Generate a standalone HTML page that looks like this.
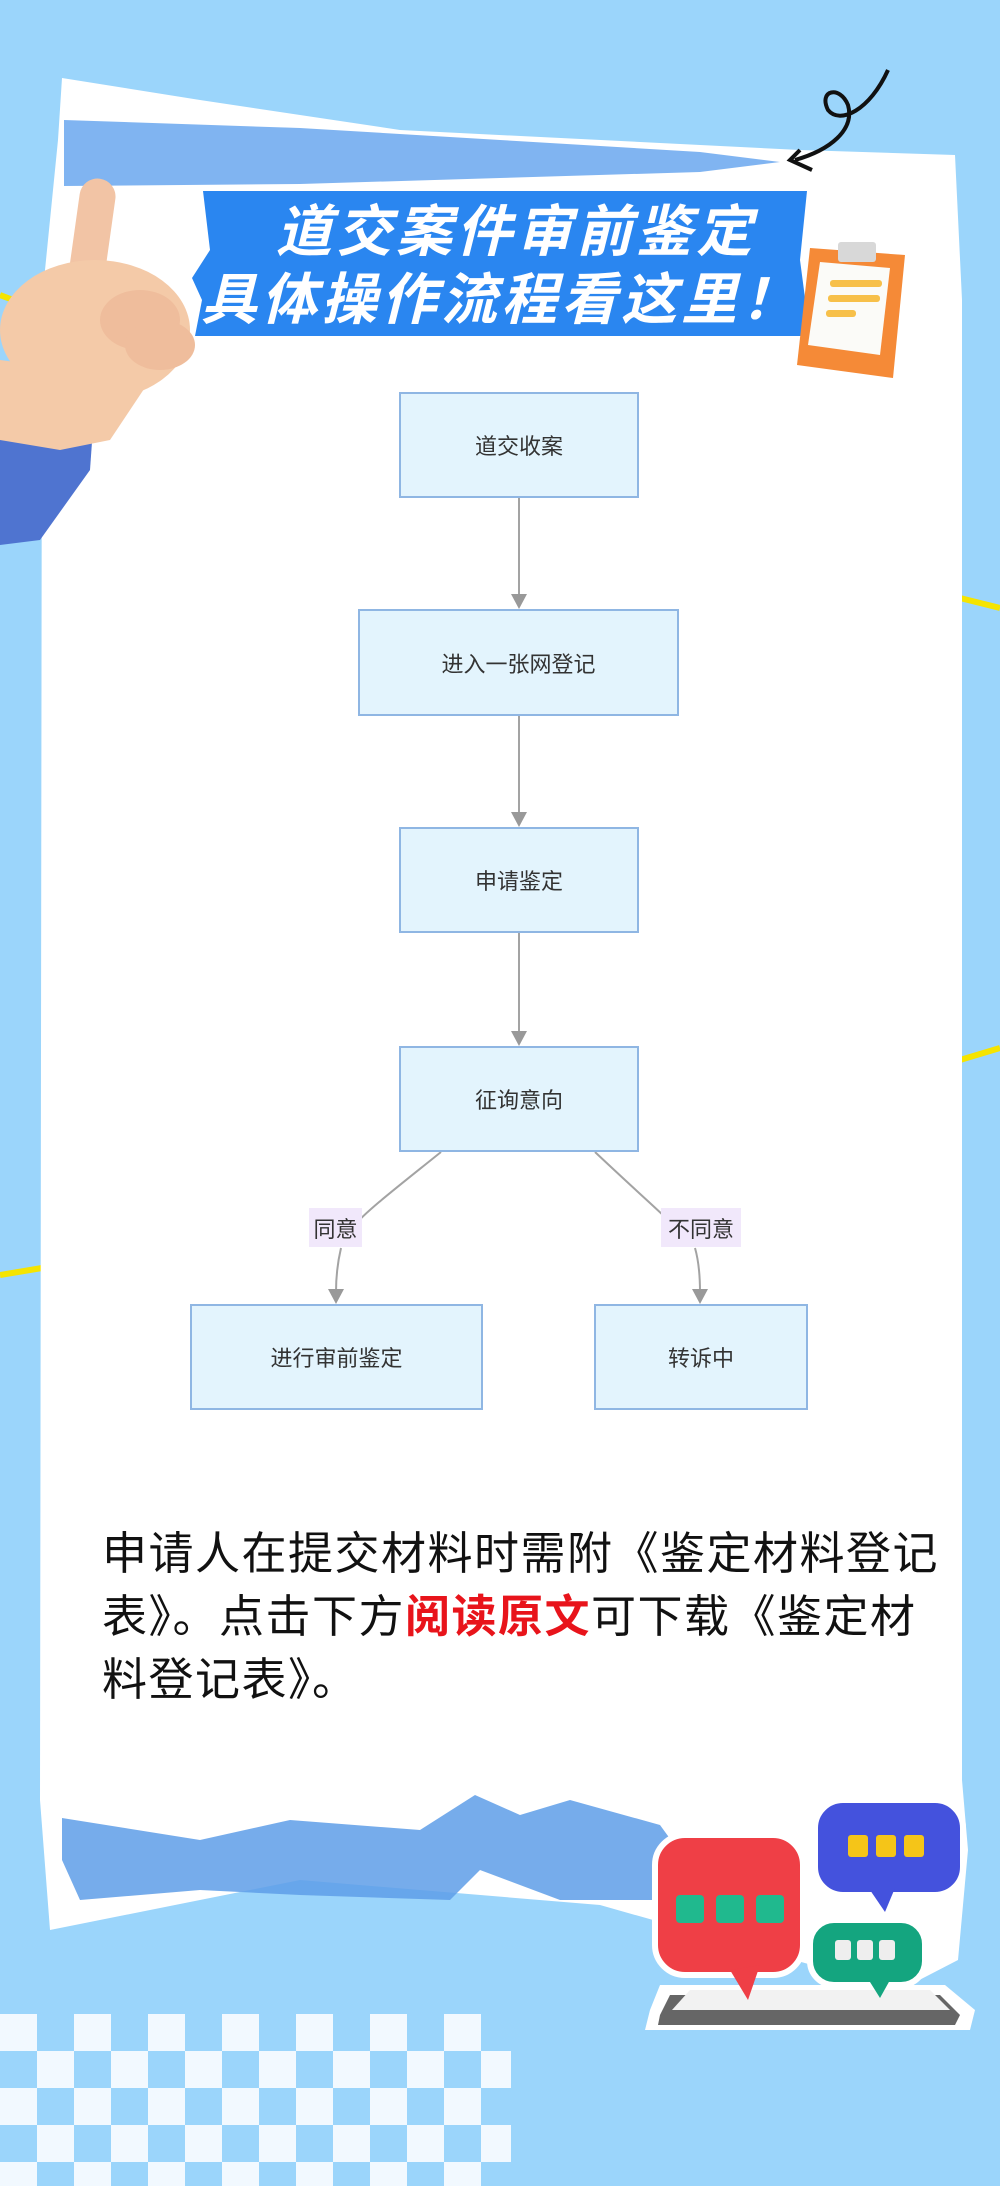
<!DOCTYPE html>
<html><head><meta charset="utf-8"><style>
html,body{margin:0;padding:0;}
body{width:1000px;height:2186px;position:relative;overflow:hidden;background:#9bd5fb;font-family:"Liberation Sans","Noto Sans CJK SC",sans-serif;}
.abs{position:absolute;}
.node{position:absolute;background:#e3f4fd;border:2px solid #8fb6e3;box-sizing:border-box;display:flex;align-items:center;justify-content:center;font-size:22px;color:#333;}
.lbl{position:absolute;background:#f1e8fb;color:#333;font-size:22px;display:flex;align-items:center;justify-content:center;}
.para{position:absolute;left:102px;top:1522px;width:880px;font-size:45px;line-height:63px;color:#111;letter-spacing:1.5px;white-space:nowrap;}
</style></head><body>
<svg class="abs" style="left:0;top:0" width="1000" height="2186">
  <line x1="0" y1="295" x2="40" y2="310" stroke="#f5e400" stroke-width="6"/>
  <line x1="960" y1="598" x2="1000" y2="608" stroke="#f5e400" stroke-width="6"/>
  <line x1="960" y1="1060" x2="1000" y2="1048" stroke="#f5e400" stroke-width="6"/>
  <line x1="0" y1="1275" x2="42" y2="1268" stroke="#f5e400" stroke-width="6"/>
  <path d="M62 78 L200 100 L400 130 L800 150 L955 155 L962 300 L962 1780 L968 1850 L958 1960 L900 1990 L600 1905 L300 1880 L50 1930 L40 1800 L42 300 L58 140 Z" fill="#ffffff"/>
  <path d="M64 120 L300 128 L500 140 L700 152 L780 162 L700 172 L500 178 L300 184 L64 186 Z" fill="#6aa7ee" opacity="0.85"/>
  <path d="M62 1818 L200 1840 L290 1820 L420 1830 L475 1795 L520 1815 L570 1800 L660 1825 L700 1880 L660 1900 L560 1900 L480 1870 L450 1900 L300 1895 L200 1890 L80 1900 L62 1860 Z" fill="#5e9de8" opacity="0.85"/>
  <g fill="#f2f9ff">
    <rect x="0" y="2014" width="37" height="37"/><rect x="74" y="2014" width="37" height="37"/><rect x="148" y="2014" width="37" height="37"/><rect x="222" y="2014" width="37" height="37"/><rect x="296" y="2014" width="37" height="37"/><rect x="370" y="2014" width="37" height="37"/><rect x="444" y="2014" width="37" height="37"/>
    <rect x="37" y="2051" width="37" height="37"/><rect x="111" y="2051" width="37" height="37"/><rect x="185" y="2051" width="37" height="37"/><rect x="259" y="2051" width="37" height="37"/><rect x="333" y="2051" width="37" height="37"/><rect x="407" y="2051" width="37" height="37"/><rect x="481" y="2051" width="30" height="37"/>
    <rect x="0" y="2088" width="37" height="37"/><rect x="74" y="2088" width="37" height="37"/><rect x="148" y="2088" width="37" height="37"/><rect x="222" y="2088" width="37" height="37"/><rect x="296" y="2088" width="37" height="37"/><rect x="370" y="2088" width="37" height="37"/><rect x="444" y="2088" width="37" height="37"/>
    <rect x="37" y="2125" width="37" height="37"/><rect x="111" y="2125" width="37" height="37"/><rect x="185" y="2125" width="37" height="37"/><rect x="259" y="2125" width="37" height="37"/><rect x="333" y="2125" width="37" height="37"/><rect x="407" y="2125" width="37" height="37"/><rect x="481" y="2125" width="30" height="37"/>
    <rect x="0" y="2162" width="37" height="24"/><rect x="74" y="2162" width="37" height="24"/><rect x="148" y="2162" width="37" height="24"/><rect x="222" y="2162" width="37" height="24"/><rect x="296" y="2162" width="37" height="24"/><rect x="370" y="2162" width="37" height="24"/><rect x="444" y="2162" width="37" height="24"/>
  </g>
  <path d="M888 70 C870 110 840 125 828 110 C818 90 840 85 848 105 C855 130 830 150 795 160 M800 150 L790 160 L812 170" fill="none" stroke="#111" stroke-width="4"/>
  <path d="M203 191 L807 191 L800 260 L810 336 L195 336 L202 300 L192 278 L210 250 Z" fill="#2a86f0"/>
  <path d="M0 430 L95 400 L90 470 L40 540 L0 545 Z" fill="#4f74d0"/>
  <rect x="72" y="178" width="36" height="150" rx="18" fill="#f2c4a5" transform="rotate(8 90 250)"/>
  <ellipse cx="95" cy="330" rx="95" ry="70" fill="#f4caa8"/>
  <ellipse cx="140" cy="320" rx="40" ry="30" fill="#efbd9c"/>
  <ellipse cx="160" cy="345" rx="35" ry="25" fill="#efbd9c"/>
  <path d="M0 360 L150 380 L110 440 L60 450 L0 440 Z" fill="#f4caa8"/>
  <path d="M810 248 L905 255 L893 378 L797 365 Z" fill="#f58a37"/>
  <path d="M820 262 L890 268 L880 355 L808 345 Z" fill="#fbfbf8"/>
  <rect x="838" y="242" width="38" height="20" rx="3" fill="#d8d8d8"/>
  <rect x="830" y="280" width="52" height="7" rx="3" fill="#f7c04a"/>
  <rect x="828" y="295" width="52" height="7" rx="3" fill="#f7c04a"/>
  <rect x="826" y="310" width="30" height="7" rx="3" fill="#f7c04a"/>
  <path d="M650 2010 L660 1985 L945 1985 L975 2010 L970 2030 L645 2030 Z" fill="#ffffff"/>
  <path d="M660 2015 L670 1995 L940 1995 L960 2015 L955 2025 L658 2025 Z" fill="#666"/>
  <path d="M690 1990 L930 1990 L950 2010 L672 2010 Z" fill="#f2f2f2"/>
  <rect x="655" y="1835" width="148" height="140" rx="30" fill="#ef3f46" stroke="#fff" stroke-width="6"/>
  <path d="M730 1970 L748 2000 L760 1965 Z" fill="#ef3f46"/>
  <rect x="676" y="1895" width="28" height="28" rx="4" fill="#20b98e"/><rect x="716" y="1895" width="28" height="28" rx="4" fill="#20b98e"/><rect x="756" y="1895" width="28" height="28" rx="4" fill="#20b98e"/>
  <rect x="815" y="1800" width="148" height="95" rx="28" fill="#4452dd" stroke="#fff" stroke-width="6"/>
  <path d="M870 1890 L885 1912 L895 1888 Z" fill="#4452dd"/>
  <rect x="848" y="1835" width="20" height="22" rx="3" fill="#f5c518"/><rect x="876" y="1835" width="20" height="22" rx="3" fill="#f5c518"/><rect x="904" y="1835" width="20" height="22" rx="3" fill="#f5c518"/>
  <rect x="810" y="1920" width="115" height="65" rx="24" fill="#14a57f" stroke="#fff" stroke-width="6"/>
  <path d="M870 1982 L880 1998 L890 1980 Z" fill="#14a57f"/>
  <rect x="835" y="1940" width="16" height="20" rx="3" fill="#eee"/><rect x="857" y="1940" width="16" height="20" rx="3" fill="#eee"/><rect x="879" y="1940" width="16" height="20" rx="3" fill="#eee"/>
  <g stroke="#a3a3a3" stroke-width="2" fill="none">
    <line x1="519" y1="498" x2="519" y2="596"/>
    <line x1="519" y1="716" x2="519" y2="814"/>
    <line x1="519" y1="933" x2="519" y2="1033"/>
    <path d="M441 1152 C400 1185 365 1212 355 1225"/>
    <path d="M341 1248 C337 1265 336 1280 336 1292"/>
    <path d="M595 1152 C630 1185 660 1212 666 1218"/>
    <path d="M695 1248 C699 1262 700 1280 700 1292"/>
  </g>
  <g fill="#999">
    <path d="M511 594 L527 594 L519 609 Z"/>
    <path d="M511 812 L527 812 L519 827 Z"/>
    <path d="M511 1031 L527 1031 L519 1046 Z"/>
    <path d="M328 1289 L344 1289 L336 1304 Z"/>
    <path d="M692 1289 L708 1289 L700 1304 Z"/>
  </g>
</svg>
<div class="abs" style="left:195px;top:198px;width:612px;text-align:center;color:#fff;font-weight:bold;font-style:italic;font-size:56px;line-height:68px;letter-spacing:4px;">
  <div style="padding-left:30px">道交案件审前鉴定</div>
  <div>具体操作流程看这里！</div>
</div>
<div class="node" style="left:399px;top:392px;width:240px;height:106px;">道交收案</div>
<div class="node" style="left:358px;top:609px;width:321px;height:107px;">进入一张网登记</div>
<div class="node" style="left:399px;top:827px;width:240px;height:106px;">申请鉴定</div>
<div class="node" style="left:399px;top:1046px;width:240px;height:106px;">征询意向</div>
<div class="node" style="left:190px;top:1304px;width:293px;height:106px;">进行审前鉴定</div>
<div class="node" style="left:594px;top:1304px;width:214px;height:106px;">转诉中</div>
<div class="lbl" style="left:309px;top:1208px;width:53px;height:39px;">同意</div>
<div class="lbl" style="left:661px;top:1208px;width:80px;height:39px;">不同意</div>
<div class="para">申请人在提交材料时需附《鉴定材料登记<br>表》。点击下方<span style="color:#e8141b;font-weight:bold">阅读原文</span>可下载《鉴定材<br>料登记表》。</div>
</body></html>
